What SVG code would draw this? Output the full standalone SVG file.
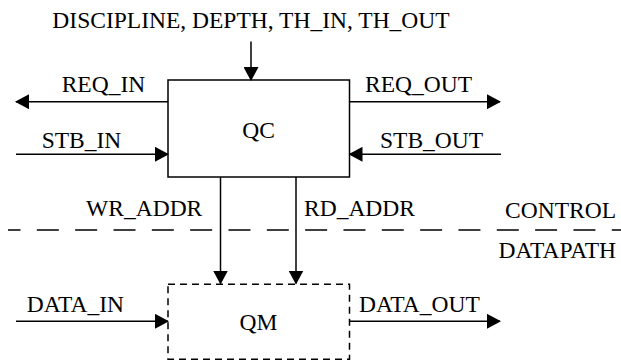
<svg xmlns="http://www.w3.org/2000/svg" width="621" height="363" viewBox="0 0 621 363">
  <style>
    text { font-family: "Liberation Serif", "Times New Roman", serif; font-size: 23.5px; fill: #000; }
    .ln { stroke: #000; stroke-width: 1.5; fill: none; }
    .box { stroke: #000; stroke-width: 1.5; fill: #fff; }
    .dbox { stroke: #000; stroke-width: 1.5; fill: #fff; stroke-dasharray: 7 5; }
    .sep { stroke: #000; stroke-width: 1.3; fill: none; stroke-dasharray: 22 16.33; stroke-dashoffset: 9.5; }
  </style>
  <defs>
    <marker id="arr" markerUnits="userSpaceOnUse" markerWidth="14" markerHeight="15" viewBox="0 0 14 15" refX="13" refY="7.5" orient="auto">
      <path d="M0,0 L14,7.5 L0,15 Z" fill="#000"/>
    </marker>
  </defs>

  <g id="separator">
    <line class="sep" x1="8" y1="230" x2="621" y2="230"/>
    <text x="616" y="218" text-anchor="end">CONTROL</text>
    <text x="616" y="258" text-anchor="end">DATAPATH</text>
  </g>

  <g id="QC">
    <rect class="box" x="168" y="80" width="181.5" height="97"/>
    <text x="258.5" y="137.5" text-anchor="middle">QC</text>
  </g>

  <g id="QM">
    <rect class="dbox" x="168" y="284.3" width="181.5" height="75"/>
    <text x="258.5" y="330" text-anchor="middle">QM</text>
  </g>

  <g id="connectors">
    <line class="ln" x1="251" y1="41.5" x2="251" y2="80" marker-end="url(#arr)"/>
    <line class="ln" x1="168" y1="101.7" x2="16" y2="101.7" marker-end="url(#arr)"/>
    <line class="ln" x1="16" y1="154.3" x2="168" y2="154.3" marker-end="url(#arr)"/>
    <line class="ln" x1="349.5" y1="101.7" x2="500" y2="101.7" marker-end="url(#arr)"/>
    <line class="ln" x1="501" y1="154.3" x2="349.5" y2="154.3" marker-end="url(#arr)"/>
    <line class="ln" x1="220.5" y1="177" x2="220.5" y2="283.5" marker-end="url(#arr)"/>
    <line class="ln" x1="296" y1="177" x2="296" y2="283.5" marker-end="url(#arr)"/>
    <line class="ln" x1="16" y1="321.3" x2="168" y2="321.3" marker-end="url(#arr)"/>
    <line class="ln" x1="349.5" y1="321.3" x2="500" y2="321.3" marker-end="url(#arr)"/>
  </g>

  <g id="labels">
    <text x="251" y="28" text-anchor="middle">DISCIPLINE, DEPTH, TH_IN, TH_OUT</text>
    <text x="61.7" y="91.7">REQ_IN</text>
    <text x="41.7" y="148.3">STB_IN</text>
    <text x="365" y="91.7">REQ_OUT</text>
    <text x="380" y="148.3">STB_OUT</text>
    <text x="202.3" y="216" text-anchor="end">WR_ADDR</text>
    <text x="304" y="216">RD_ADDR</text>
    <text x="26.7" y="311.7">DATA_IN</text>
    <text x="359" y="311.7">DATA_OUT</text>
  </g>
</svg>
